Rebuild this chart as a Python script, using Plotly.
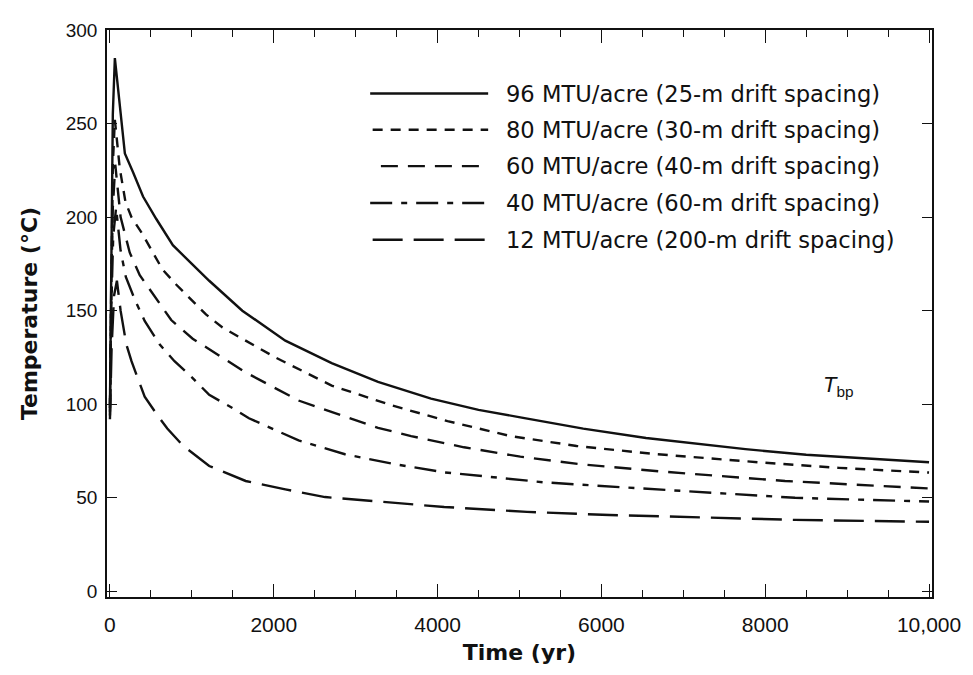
import plotly.graph_objects as go

# ---------------- data ----------------
labels = [
    "96 MTU/acre (25-m drift spacing)",
    "80 MTU/acre (30-m drift spacing)",
    "60 MTU/acre (40-m drift spacing)",
    "40 MTU/acre (60-m drift spacing)",
    "12 MTU/acre (200-m drift spacing)",
]

t96 = [0, 15, 35, 60, 120, 182, 282, 404, 566, 768, 1000, 1212, 1616, 2141, 2707,
       3273, 3920, 4500, 5010, 5778, 6545, 7250, 7758, 8500, 9200, 10000]
T96 = [100, 180, 255, 285, 258, 234, 224, 211, 199, 185, 175, 166, 150, 134, 122,
       112, 103, 97, 93, 87, 82, 78.5, 76, 73, 71, 69]

t80 = [0, 15, 35, 60, 120, 190, 263, 396, 517, 642, 808, 990, 1172, 1374, 1576,
       1778, 2020, 2707, 3434, 4121, 4889, 5697, 6626, 7919, 8900, 10000]
T80 = [98, 170, 228, 252, 226, 208, 200, 191, 182, 172, 164, 156, 148, 141, 136,
       131, 125, 110, 99.5, 91, 83, 77.7, 73.5, 69, 66, 63.5]

t60 = [0, 15, 35, 65, 130, 242, 364, 570, 748, 1010, 1333, 1657, 2303, 2707,
       3273, 3677, 4323, 5010, 5737, 6747, 8242, 10000]
T60 = [96, 160, 205, 228, 200, 181, 169, 156, 145, 135, 126, 117, 102, 96,
       87.4, 83, 77, 72, 68, 64, 59, 55]

t40 = [0, 15, 40, 75, 130, 194, 303, 424, 606, 788, 1010, 1212, 1495, 1697, 2303,
       2869, 3475, 4081, 4687, 5293, 5899, 6828, 8364, 10000]
T40 = [94, 150, 190, 205, 182, 168, 156, 144.5, 132, 123, 114, 105, 98, 92.5, 80.7,
       73.3, 68, 63.6, 61, 58.3, 56.6, 54, 50, 48]

t12 = [0, 20, 50, 85, 130, 165, 200, 263, 364, 424, 566, 700, 889, 1212, 1657,
       2141, 2626, 3111, 3515, 4081, 5091, 6100, 6828, 8364, 10000]
T12 = [92, 130, 158, 166, 150, 140, 132, 123, 111, 104, 95, 87, 78, 67, 59,
       54.5, 50.4, 48.7, 47, 45.1, 42.5, 40.8, 40, 38.2, 37.2]

x_tickvals = [0, 2000, 4000, 6000, 8000, 10000]
x_ticktext = ["0", "2000", "4000", "6000", "8000", "10,000"]

series = [(t96, T96), (t80, T80), (t60, T60), (t40, T40), (t12, T12)]
dashes = ["solid", "10px,8px", "17px,10px", "22px,9px,6px,9px", "30px,11px"]

INK = "#111111"
FONT = "Liberation Sans, Arial, sans-serif"

fig = go.Figure()
for (t, T), d in zip(series, dashes):
    fig.add_trace(go.Scatter(
        x=t, y=T, mode="lines",
        line=dict(color=INK, width=2.4, dash=d),
        showlegend=False, hoverinfo="skip",
    ))

# legend with long line samples, as in the original figure
legend_rows = [0.888, 0.824, 0.760, 0.695, 0.630]
legend_x0 = [0.319, 0.322, 0.332, 0.319, 0.322]
shapes = []
annotations = []
for lab, d, yy, x0 in zip(labels, dashes, legend_rows, legend_x0):
    shapes.append(dict(type="line", xref="paper", yref="paper",
                       x0=x0, x1=0.462, y0=yy, y1=yy,
                       line=dict(color=INK, width=2.4, dash=d)))
    annotations.append(dict(xref="paper", yref="paper", x=0.481, y=yy,
                            text=lab, showarrow=False, xanchor="left",
                            yanchor="middle",
                            font=dict(family="DejaVu Sans", size=22.6, color=INK)))

annotations.append(dict(x=8900, y=110, xref="x", yref="y",
                        text="<i>T</i><sub>bp</sub>", showarrow=False,
                        font=dict(family=FONT, size=22, color=INK)))

# the page body adds an 8 px margin, so the figure is sized to fit inside it
fig.update_layout(
    width=965, height=667,
    margin=dict(l=99, r=35, t=15, b=78),
    paper_bgcolor="white", plot_bgcolor="white",
    shapes=shapes, annotations=annotations,
    font=dict(family=FONT, color=INK),
    xaxis=dict(
        range=[-36, 10036],
        tickmode="array", tickvals=x_tickvals, ticktext=x_ticktext,
        ticks="inside", ticklen=13, tickwidth=1.3, tickcolor=INK,
        minor=dict(tick0=0, dtick=500, ticks="inside", ticklen=7,
                   tickwidth=1, tickcolor=INK, showgrid=False),
        showline=True, linecolor=INK, linewidth=1.6, mirror="allticks",
        showgrid=False, zeroline=False,
        ticklabelstandoff=8,
        tickfont=dict(family=FONT, size=21, color=INK),
        title=dict(text="<b>Time (yr)</b>", standoff=10,
                   font=dict(family="DejaVu Sans", size=22, color=INK)),
    ),
    yaxis=dict(
        range=[-3, 300], tick0=0, dtick=50,
        ticks="inside", ticklen=10, tickwidth=1.3, tickcolor=INK,
        showline=True, linecolor=INK, linewidth=1.6, mirror="allticks",
        showgrid=False, zeroline=False,
        ticklabelstandoff=4,
        tickfont=dict(family=FONT, size=19, color=INK),
        title=dict(text="<b>Temperature (°C)</b>", standoff=22,
                   font=dict(family="DejaVu Sans", size=22, color=INK)),
    ),
)

fig.write_html("out.html")
